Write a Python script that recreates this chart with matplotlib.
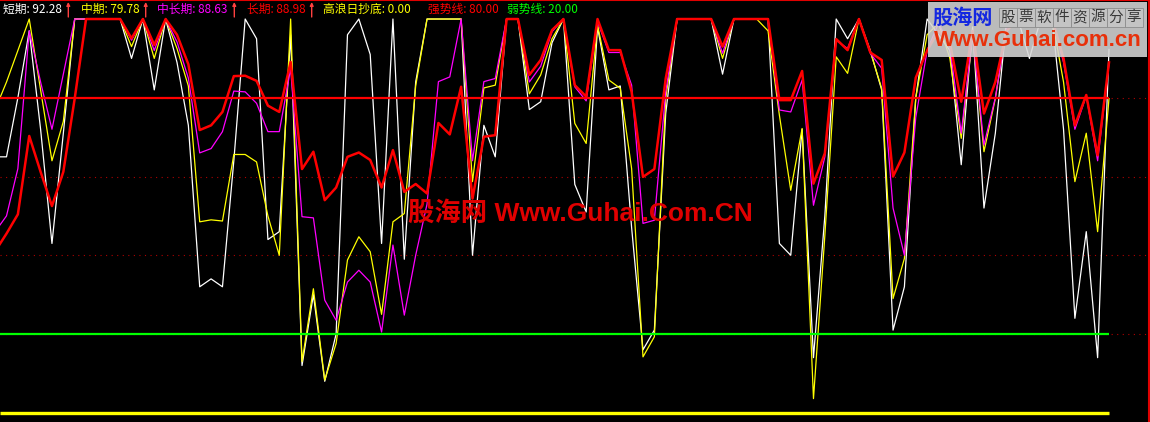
import numpy as np
import matplotlib.pyplot as plt
from matplotlib.patches import Rectangle, FancyArrowPatch

plt.rcParams['font.family'] = ['Noto Sans CJK SC', 'DejaVu Sans']

# one point per bar, the first one sits just off the left edge
days = np.arange(-1, 98)

# 短期 (white)
short_term = [65, 65, 80, 97, 72, 43, 71, 100, 100, 100,
              100, 100, 90, 100, 82, 100, 89, 73, 32, 34,
              32, 64, 100, 95, 44, 46, 96, 12, 30, 8,
              20, 96, 100, 91, 43, 100, 39, 84, 100, 100,
              100, 100, 40, 73, 65, 100, 100, 77, 79, 94,
              100, 58, 51, 98, 82, 83, 47, 16, 21, 76,
              100, 100, 100, 100, 86, 100, 100, 100, 100, 43,
              40, 72, 14, 50, 100, 95, 100, 92, 82, 21,
              32, 80, 100, 96, 92, 63, 98, 52, 71, 100,
              100, 90, 100, 100, 72, 24, 46, 14, 92.28]

# 中期 (yellow)
mid_term = [77, 84, 92, 100, 82, 64, 74, 100, 100, 100,
            100, 100, 93, 100, 90, 100, 92.5, 83, 48.5, 49,
            48.7, 65.6, 65.6, 63.7, 50, 40, 100, 13, 31.5, 8.3,
            17.6, 38.8, 44.7, 40.9, 25, 48.5, 50.6, 83, 100, 100,
            100, 100, 58.7, 82.5, 83.2, 100, 100, 81, 85.8, 95,
            100, 73.5, 68.4, 98.5, 84.5, 82.4, 62, 14.2, 19.3, 79.8,
            100, 100, 100, 100, 90, 100, 100, 100, 97, 75.6,
            56.5, 72.2, 3.6, 45, 90.4, 86.2, 100, 91.7, 82.4, 29,
            39.2, 80, 96, 99, 90, 69.7, 96, 66.3, 79.8, 98,
            100, 98, 100, 100, 84, 58.7, 71, 46, 79.78]

# 中长期 (magenta)
mid_long_term = [46, 50, 62, 97, 84, 72, 86, 100, 100, 100,
                 100, 100, 94.6, 100, 92, 100, 94.2, 85, 66, 67.1,
                 71.4, 81.7, 81.5, 78.6, 71.4, 71.4, 87.4, 49.8, 49.5, 28.6,
                 23.5, 33.2, 36.2, 33.2, 20.5, 42.6, 24.8, 40, 53, 84.1,
                 85.3, 100, 64, 84.1, 84.9, 100, 100, 84, 88, 96.8,
                 100, 82.8, 79.2, 99.3, 91.5, 91.5, 83.2, 48.1, 48.9, 81.5,
                 100, 100, 100, 100, 91.3, 100, 100, 100, 100, 76.9,
                 76.4, 84.5, 52.7, 65, 94.6, 92.5, 100, 91.3, 87.5, 52,
                 40, 75, 92, 99, 93, 71, 96, 68, 80, 98,
                 100, 99, 100, 100, 89, 72, 80.5, 64, 88.63]

# 长期 (red, thick)
long_term = [41, 45.5, 50.4, 70.3, 61.2, 52.5, 61.2, 79.8, 100, 100,
             100, 100, 95.1, 100, 93.4, 100, 96, 88.5, 71.8, 73,
             76.4, 85.5, 85.6, 84.3, 78, 76.4, 89.1, 61.9, 66.3, 54,
             57.2, 65, 66.1, 64.2, 57.2, 66.7, 56.1, 58.1, 55.7, 73.6,
             70.7, 82.8, 54.4, 70.1, 70.5, 100, 100, 85.8, 89.6, 97.2,
             100, 83.2, 80.3, 100, 92.1, 92.1, 81.5, 59.9, 61.9, 84.9,
             100, 100, 100, 100, 93, 100, 100, 100, 100, 79.4,
             79.4, 86.8, 58.2, 65.9, 94.9, 92.1, 100, 91.5, 89.6, 60,
             66.1, 85.1, 92, 97, 94, 79, 97, 76, 84, 97,
             100, 100, 100, 100, 90, 73, 80.7, 65.4, 88.98]

strong_line = 80.0      # 强势线
weak_line = 20.0        # 弱势线
bottom_signal = 0.0     # 高浪日抄底
grid_levels = [80, 60, 40, 20]

W, H = 1150, 422
fig = plt.figure(figsize=(W / 100, H / 100), dpi=100, facecolor='black')
ax = fig.add_axes([0, 0, 1149 / W, 1])
ax.set_facecolor('black')
ax.set_xlim(-0.572, 100.52)
ax.set_ylim(-2.34, 104.83)
ax.set_xticks([])
ax.set_yticks([])
for side in ['left', 'bottom']:
    ax.spines[side].set_visible(False)
for side in ['top', 'right']:
    ax.spines[side].set_color('#e00000')
    ax.spines[side].set_linewidth(1.5)

# dotted grid lines across the full width
for level in grid_levels:
    ax.axhline(level, color='#b00000', lw=0.8, ls=(0, (1, 4)), zorder=1)

ax.plot(days, short_term, color='white', lw=0.9, zorder=3)
ax.plot(days, mid_term, color='#ffff00', lw=0.9, zorder=3)
ax.plot(days, mid_long_term, color='#ff00ff', lw=0.9, zorder=3)
ax.plot(days, long_term, color='#ff0000', lw=1.8, zorder=4)

left = ax.get_xlim()[0]
ax.hlines(strong_line, left, days[-1], color='#ff0000', lw=1.6, zorder=5)
ax.hlines(weak_line, left, days[-1], color='#00ff00', lw=1.6, zorder=5)
ax.hlines(bottom_signal, left, days[-1], color='#ffff00', lw=2.4, zorder=5)


def fx(x):
    return x / W


def fy(y):
    return 1 - y / H


# header line with the latest values
header = [
    (2.7, f'短期: {short_term[-1]:.2f}', 'white', 68.3),
    (81, f'中期: {mid_term[-1]:.2f}', '#ffff00', 145.7),
    (157.3, f'中长期: {mid_long_term[-1]:.2f}', '#ff00ff', 234.3),
    (246.7, f'长期: {long_term[-1]:.2f}', '#ff0000', 311.7),
    (323.3, f'高浪日抄底: {bottom_signal:.2f}', '#ffff00', None),
    (428.3, f'强势线: {strong_line:.2f}', '#ff0000', None),
    (506.7, f'弱势线: {weak_line:.2f}', '#00ff00', None),
]
for x, label, color, arrow_x in header:
    fig.text(fx(x), fy(9.5), label, color=color, fontsize=8.5, ha='left', va='center')
    if arrow_x is not None:
        fig.add_artist(FancyArrowPatch((fx(arrow_x), fy(17)), (fx(arrow_x), fy(2)),
                                       transform=fig.transFigure, arrowstyle='-|>',
                                       mutation_scale=5, color='#ff4040', lw=1.0,
                                       shrinkA=0, shrinkB=0))

# watermark in the middle
fig.text(fx(408), fy(213), '股海网 Www.Guhai.Com.CN', color='#e00000',
         fontsize=19, fontweight='bold', ha='left', va='center',
         family=['Liberation Sans', 'Noto Sans CJK SC'], zorder=20)

# logo block in the top right corner
fig.add_artist(Rectangle((fx(928), fy(57)), (1147 - 928) / W, 55 / H,
                         transform=fig.transFigure, facecolor='#d6d6d6',
                         edgecolor='none', alpha=0.88, zorder=10))
fig.text(fx(932), fy(17), '股海网', color='#1428e0', fontsize=14.5,
         fontweight='bold', ha='left', va='center', zorder=11)
for k, ch in enumerate('股票软件资源分享'):
    bx = 999 + k * 18
    fig.add_artist(Rectangle((fx(bx), fy(27)), 18 / W, 19 / H,
                             transform=fig.transFigure, facecolor='#c4c4c4',
                             edgecolor='#8c8c8c', lw=0.6, zorder=11))
    fig.text(fx(bx + 9), fy(17.5), ch, color='#383838', fontsize=10.5,
             ha='center', va='center', zorder=12)
fig.text(fx(1038), fy(40), 'Www.Guhai.com.cn', color='#e8300a', fontsize=16,
         fontweight='bold', ha='center', va='center',
         family=['Liberation Sans', 'DejaVu Sans'], zorder=11)

fig.savefig('out.png', dpi=100, facecolor='black')
